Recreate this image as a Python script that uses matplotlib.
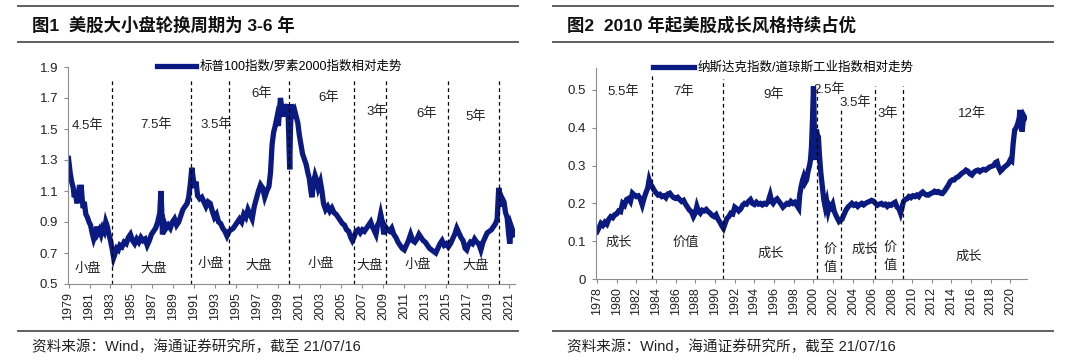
import matplotlib
matplotlib.use('Agg')
import matplotlib.pyplot as plt
from matplotlib.lines import Line2D

plt.rcParams['font.family'] = ['Liberation Sans', 'Noto Sans CJK SC']

# 图1: 标普100/罗素2000
sp_years = [1979.0,1979.15,1979.3,1979.45,1979.55,1979.65,1979.8,1979.95,1980.1,1980.2,1980.3,1980.4,1980.5,1980.65,1980.8,1980.95,
	1981.1,1981.25,1981.4,1981.55,1981.7,1981.8,1981.95,1982.1,1982.25,1982.4,1982.55,1982.7,1982.85,1983.0,1983.15,1983.3,1983.45,
	1983.6,1983.75,1983.9,1984.1,1984.3,1984.5,1984.7,1984.9,1985.1,1985.3,1985.5,1985.7,1985.9,1986.1,1986.3,1986.5,1986.7,1986.9,
	1987.1,1987.3,1987.5,1987.6,1987.7,1987.8,1987.87,1987.95,1988.1,1988.3,1988.5,1988.7,1988.9,1989.1,1989.3,1989.5,1989.7,1989.9,
	1990.1,1990.3,1990.45,1990.6,1990.75,1990.85,1991.0,1991.15,1991.3,1991.5,1991.7,1991.9,1992.1,1992.3,1992.5,1992.7,1992.9,
	1993.1,1993.3,1993.5,1993.7,1993.9,1994.1,1994.3,1994.5,1994.7,1994.9,1995.1,1995.3,1995.5,1995.7,1995.9,1996.1,1996.3,1996.5,
	1996.7,1996.9,1997.1,1997.3,1997.5,1997.7,1997.9,1998.1,1998.25,1998.4,1998.55,1998.7,1998.85,1999.0,1999.1,1999.2,1999.35,
	1999.5,1999.6,1999.75,1999.9,2000.0,2000.08,2000.15,2000.25,2000.4,2000.55,2000.7,2000.85,2001.0,2001.15,2001.3,2001.5,2001.65,
	2001.8,2001.95,2002.1,2002.2,2002.35,2002.5,2002.65,2002.8,2003.0,2003.15,2003.3,2003.5,2003.7,2003.9,2004.1,2004.3,2004.5,
	2004.7,2004.9,2005.1,2005.3,2005.5,2005.7,2005.9,2006.05,2006.2,2006.4,2006.6,2006.8,2007.0,2007.2,2007.4,2007.6,2007.8,2007.95,
	2008.1,2008.3,2008.45,2008.6,2008.75,2008.9,2009.05,2009.2,2009.4,2009.6,2009.8,2010.0,2010.2,2010.4,2010.6,2010.8,2011.0,2011.2,
	2011.4,2011.6,2011.8,2012.0,2012.2,2012.4,2012.6,2012.8,2013.0,2013.2,2013.4,2013.6,2013.8,2014.0,2014.2,2014.4,2014.6,2014.8,
	2015.0,2015.2,2015.4,2015.6,2015.8,2016.0,2016.2,2016.4,2016.6,2016.8,2016.95,2017.1,2017.3,2017.5,2017.7,2017.9,2018.1,2018.3,
	2018.5,2018.7,2018.9,2019.1,2019.3,2019.5,2019.7,2019.85,2020.0,2020.1,2020.2,2020.35,2020.5,2020.65,2020.8,2020.95,2021.05,
	2021.2,2021.35,2021.5]
sp_ratio = [1.31,1.22,1.16,1.12,1.06,1.10,1.02,1.09,1.07,1.14,1.05,0.99,1.03,0.95,0.93,0.90,
	0.88,0.83,0.79,0.82,0.87,0.83,0.85,0.82,0.86,0.84,0.90,0.87,0.82,0.78,0.73,0.67,0.70,
	0.73,0.72,0.75,0.74,0.77,0.76,0.80,0.82,0.78,0.76,0.79,0.77,0.80,0.78,0.79,0.75,0.78,0.82,
	0.84,0.86,0.90,0.93,0.96,1.10,1.00,0.82,0.90,0.86,0.88,0.86,0.90,0.92,0.88,0.90,0.94,0.98,
	1.00,1.02,1.06,1.14,1.25,1.20,1.12,1.16,1.07,1.05,1.06,1.03,1.00,1.03,1.02,0.97,0.93,
	0.95,0.90,0.89,0.86,0.84,0.81,0.84,0.85,0.86,0.88,0.90,0.92,0.90,0.95,0.93,0.98,0.95,0.92,
	1.00,1.05,1.10,1.14,1.12,1.06,1.10,1.13,1.22,1.40,1.48,1.52,1.57,1.52,1.62,1.70,1.62,
	1.58,1.66,1.60,1.66,1.42,1.24,1.50,1.66,1.60,1.62,1.58,1.54,1.46,1.40,1.34,1.30,1.27,
	1.22,1.18,1.10,1.06,1.15,1.20,1.17,1.12,1.16,1.10,1.02,0.98,1.00,0.97,0.99,0.96,0.95,
	0.93,0.91,0.89,0.88,0.85,0.84,0.80,0.78,0.80,0.84,0.85,0.83,0.85,0.84,0.86,0.88,0.90,0.87,
	0.85,0.82,0.88,0.90,0.95,0.90,0.82,0.87,0.85,0.84,0.86,0.82,0.80,0.77,0.75,0.73,0.72,0.75,
	0.78,0.82,0.78,0.77,0.79,0.82,0.80,0.78,0.77,0.75,0.73,0.72,0.71,0.70,0.73,0.76,0.78,0.75,
	0.76,0.74,0.76,0.79,0.82,0.86,0.83,0.80,0.78,0.73,0.72,0.75,0.77,0.76,0.79,0.77,0.76,0.72,
	0.77,0.80,0.83,0.84,0.85,0.87,0.89,0.92,1.12,1.08,1.00,1.05,1.03,0.96,0.93,0.82,0.76,
	0.87,0.84,0.82]
sp_cuts = [1983.15, 1990.65, 1994.3, 2000.05, 2006.2, 2009.25, 2015.15, 2020.05]
sp_periods = ['4.5年', '7.5年', '3.5年', '6年', '6年', '3年', '6年', '5年']
sp_styles = ['小盘', '大盘', '小盘', '大盘', '小盘', '大盘', '小盘', '大盘']

# 图2: 纳斯达克/道琼斯工业
nq_years = [1978.0,1978.2,1978.4,1978.6,1978.8,1979.0,1979.2,1979.4,1979.6,1979.8,1980.0,1980.2,1980.4,1980.6,1980.8,1981.0,
	1981.2,1981.4,1981.6,1981.8,1982.0,1982.2,1982.4,1982.6,1982.8,1983.0,1983.15,1983.3,1983.45,1983.6,1983.8,1984.0,1984.2,
	1984.4,1984.6,1984.8,1985.0,1985.2,1985.4,1985.6,1985.8,1986.0,1986.2,1986.4,1986.6,1986.8,1987.0,1987.2,1987.4,1987.6,
	1987.8,1988.0,1988.15,1988.3,1988.5,1988.7,1988.9,1989.1,1989.3,1989.5,1989.7,1989.9,1990.1,1990.3,1990.5,1990.7,1990.85,
	1991.0,1991.2,1991.4,1991.6,1991.8,1992.0,1992.2,1992.4,1992.6,1992.8,1993.0,1993.2,1993.4,1993.6,1993.8,1994.0,1994.2,
	1994.4,1994.6,1994.8,1995.0,1995.2,1995.4,1995.6,1995.75,1995.9,1996.1,1996.3,1996.5,1996.7,1996.9,1997.1,1997.3,1997.5,
	1997.7,1997.9,1998.1,1998.3,1998.5,1998.6,1998.75,1998.9,1999.0,1999.15,1999.3,1999.45,1999.6,1999.7,1999.8,1999.9,2000.0,
	2000.05,2000.12,2000.2,2000.3,2000.4,2000.5,2000.6,2000.75,2000.9,2001.05,2001.2,2001.35,2001.5,2001.65,2001.8,2001.95,
	2002.1,2002.25,2002.4,2002.6,2002.75,2002.9,2003.1,2003.3,2003.5,2003.7,2003.9,2004.1,2004.3,2004.5,2004.7,2004.9,2005.1,
	2005.3,2005.5,2005.7,2005.9,2006.1,2006.3,2006.5,2006.7,2006.9,2007.1,2007.3,2007.5,2007.7,2007.9,2008.1,2008.3,2008.5,
	2008.7,2008.85,2009.0,2009.15,2009.3,2009.5,2009.7,2009.9,2010.1,2010.3,2010.5,2010.7,2010.9,2011.1,2011.3,2011.5,2011.7,
	2011.9,2012.1,2012.3,2012.5,2012.7,2012.9,2013.1,2013.3,2013.5,2013.7,2013.9,2014.1,2014.3,2014.5,2014.7,2014.9,2015.1,
	2015.3,2015.5,2015.7,2015.9,2016.1,2016.3,2016.5,2016.7,2016.9,2017.1,2017.3,2017.5,2017.7,2017.9,2018.1,2018.3,2018.5,
	2018.65,2018.8,2019.0,2019.2,2019.4,2019.6,2019.8,2020.0,2020.15,2020.3,2020.45,2020.6,2020.75,2020.9,2021.0,2021.1,2021.2,
	2021.3,2021.4,2021.5]
nq_ratio = [0.125,0.135,0.147,0.142,0.150,0.145,0.158,0.165,0.162,0.170,0.172,0.180,0.178,0.200,0.195,0.210,
	0.213,0.205,0.227,0.222,0.218,0.220,0.212,0.196,0.215,0.230,0.240,0.262,0.250,0.245,0.235,0.228,0.222,
	0.224,0.218,0.220,0.215,0.225,0.227,0.220,0.215,0.213,0.216,0.210,0.205,0.208,0.198,0.190,0.182,0.178,
	0.165,0.175,0.192,0.180,0.174,0.182,0.180,0.184,0.178,0.174,0.168,0.165,0.170,0.158,0.150,0.140,0.134,
	0.145,0.160,0.165,0.174,0.172,0.190,0.186,0.180,0.185,0.195,0.200,0.198,0.205,0.210,0.200,0.197,0.203,
	0.198,0.200,0.196,0.200,0.198,0.205,0.222,0.205,0.200,0.208,0.212,0.205,0.198,0.190,0.195,0.200,0.198,
	0.205,0.200,0.203,0.195,0.187,0.222,0.245,0.262,0.270,0.255,0.262,0.285,0.300,0.315,0.350,0.420,0.509,
	0.460,0.330,0.315,0.395,0.380,0.376,0.330,0.280,0.244,0.210,0.190,0.205,0.180,0.195,0.190,0.198,
	0.180,0.170,0.162,0.152,0.155,0.158,0.170,0.182,0.190,0.195,0.200,0.195,0.198,0.192,0.197,0.200,0.196,
	0.200,0.203,0.205,0.208,0.206,0.200,0.195,0.198,0.200,0.196,0.198,0.192,0.197,0.195,0.200,0.203,0.190,
	0.185,0.174,0.190,0.205,0.210,0.212,0.218,0.215,0.220,0.218,0.222,0.218,0.226,0.230,0.225,0.222,0.222,
	0.226,0.228,0.232,0.229,0.231,0.227,0.226,0.232,0.240,0.248,0.258,0.262,0.262,0.268,0.270,0.275,0.280,
	0.283,0.288,0.285,0.278,0.275,0.282,0.286,0.288,0.284,0.288,0.290,0.288,0.292,0.296,0.298,0.300,0.308,
	0.310,0.296,0.285,0.290,0.296,0.300,0.305,0.315,0.312,0.360,0.394,0.400,0.410,0.425,0.447,0.420,0.390,
	0.415,0.430,0.425]
nq_cuts = [1983.6, 1990.8, 2000.4, 2002.8, 2006.3, 2009.1]
nq_cut_tops = [0.54, 0.53, 0.50, 0.45, 0.51, 0.51]
nq_periods = ['5.5年', '7年', '9年', '2.5年', '3.5年', '3年', '12年']
nq_styles = ['成长', '价值', '成长', '价\n值', '成长', '价\n值', '成长']

W = 1080.0
H = 364.0
navy = '#0b1a80'
grey = '#5f5f5f'

fig = plt.figure(figsize=(10.8, 3.64), dpi=100)

def fx(px):
	return px / W

def fy(py):
	return 1 - py / H

def frame(x0, x1, title):
	for y in [6, 42, 331]:
		fig.add_artist(Line2D([fx(x0), fx(x1)], [fy(y), fy(y)], color=grey, lw=1.4))
	fig.text(fx(x0 + 14), fy(25), title, fontsize=12.5, fontweight='bold', va='center', color='#111111')
	fig.text(fx(x0 + 14), fy(347), '资料来源：Wind，海通证券研究所，截至 21/07/16', fontsize=10.5, va='center', color='#222222')

def style_axes(ax):
	for s in ['top', 'right']:
		ax.spines[s].set_visible(False)
	for s in ['left', 'bottom']:
		ax.spines[s].set_color('#8c8c8c')
		ax.spines[s].set_linewidth(0.8)
	ax.tick_params(axis='y', labelsize=9.5, length=3, color='#8c8c8c', labelcolor='#222222', pad=4)
	ax.tick_params(axis='x', labelsize=9, length=3, color='#8c8c8c', labelcolor='#222222', labelrotation=90, pad=3)

frame(18, 518, '图1  美股大小盘轮换周期为 3-6 年')
frame(553, 1053, '图2  2010 年起美股成长风格持续占优')

# left
ax1 = fig.add_axes([fx(68), fy(284), fx(515 - 68), (284 - 67) / H])
ax1.plot(sp_years, sp_ratio, color=navy, lw=3.8, solid_joinstyle='miter', label='标普100指数/罗素2000指数相对走势')
ax1.vlines(sp_cuts, 0.5, 1.815, colors='black', linestyles=(0, (3, 2.5)), lw=0.9)
ax1.set_xlim(1978.95, 2021.55)
ax1.set_ylim(0.5, 1.9)
ax1.set_yticks([0.5, 0.7, 0.9, 1.1, 1.3, 1.5, 1.7, 1.9])
ax1.set_xticks(range(1979, 2022, 2))
style_axes(ax1)
sp_px = [1980.85, 1987.35, 1993.05, 1997.45, 2003.8, 2008.35, 2013.1, 2017.85]
sp_py = [1.52, 1.525, 1.53, 1.73, 1.70, 1.61, 1.60, 1.58]
sp_sx = [1980.8, 1987.15, 1992.6, 1997.15, 2003.0, 2007.75, 2012.3, 2017.8]
sp_sy = [0.60, 0.60, 0.63, 0.62, 0.63, 0.62, 0.62, 0.62]
for i in range(len(sp_periods)):
	ax1.text(sp_px[i], sp_py[i], sp_periods[i], fontsize=9.5, ha='center', va='center', color='#222222')
	ax1.text(sp_sx[i], sp_sy[i], sp_styles[i], fontsize=9.5, ha='center', va='center', color='#222222')
ax1.legend(loc='center left', bbox_to_anchor=((157 - 68) / 447.0, 1.0), frameon=False, fontsize=9,
	borderpad=0, borderaxespad=0, handlelength=3.1, handletextpad=0.3)

# right
ax2 = fig.add_axes([fx(596), fy(279), fx(1027 - 596), (279 - 68) / H])
ax2.plot(nq_years, nq_ratio, color=navy, lw=3.8, solid_joinstyle='miter', label='纳斯达克指数/道琼斯工业指数相对走势')
for i in range(len(nq_cuts)):
	ax2.vlines(nq_cuts[i], 0, nq_cut_tops[i], colors='black', linestyles=(0, (3, 2.5)), lw=0.9)
ax2.set_xlim(1977.9, 2021.7)
ax2.set_ylim(0, 0.558)
ax2.set_yticks([0, 0.1, 0.2, 0.3, 0.4, 0.5])
ax2.set_yticklabels(['0', '0.1', '0.2', '0.3', '0.4', '0.5'])
ax2.set_xticks(range(1978, 2021, 2))
style_axes(ax2)
nq_px = [1980.7, 1986.85, 1996.0, 2001.6, 2004.2, 2007.55, 2016.1]
nq_py = [0.495, 0.495, 0.487, 0.50, 0.466, 0.438, 0.438]
nq_sx = [1980.25, 1987.0, 1995.7, 2001.7, 2005.2, 2007.8, 2015.8]
nq_sy = [0.096, 0.096, 0.068, 0.053, 0.077, 0.059, 0.059]
for i in range(len(nq_periods)):
	ax2.text(nq_px[i], nq_py[i], nq_periods[i], fontsize=9.5, ha='center', va='center', color='#222222')
	ax2.text(nq_sx[i], nq_sy[i], nq_styles[i], fontsize=9.5, ha='center', va='center', color='#222222', linespacing=1.6)
ax2.legend(loc='center left', bbox_to_anchor=((653 - 596) / 431.0, 1.0), frameon=False, fontsize=9,
	borderpad=0, borderaxespad=0, handlelength=3.3, handletextpad=0.3)

fig.savefig('out.png', dpi=100)
